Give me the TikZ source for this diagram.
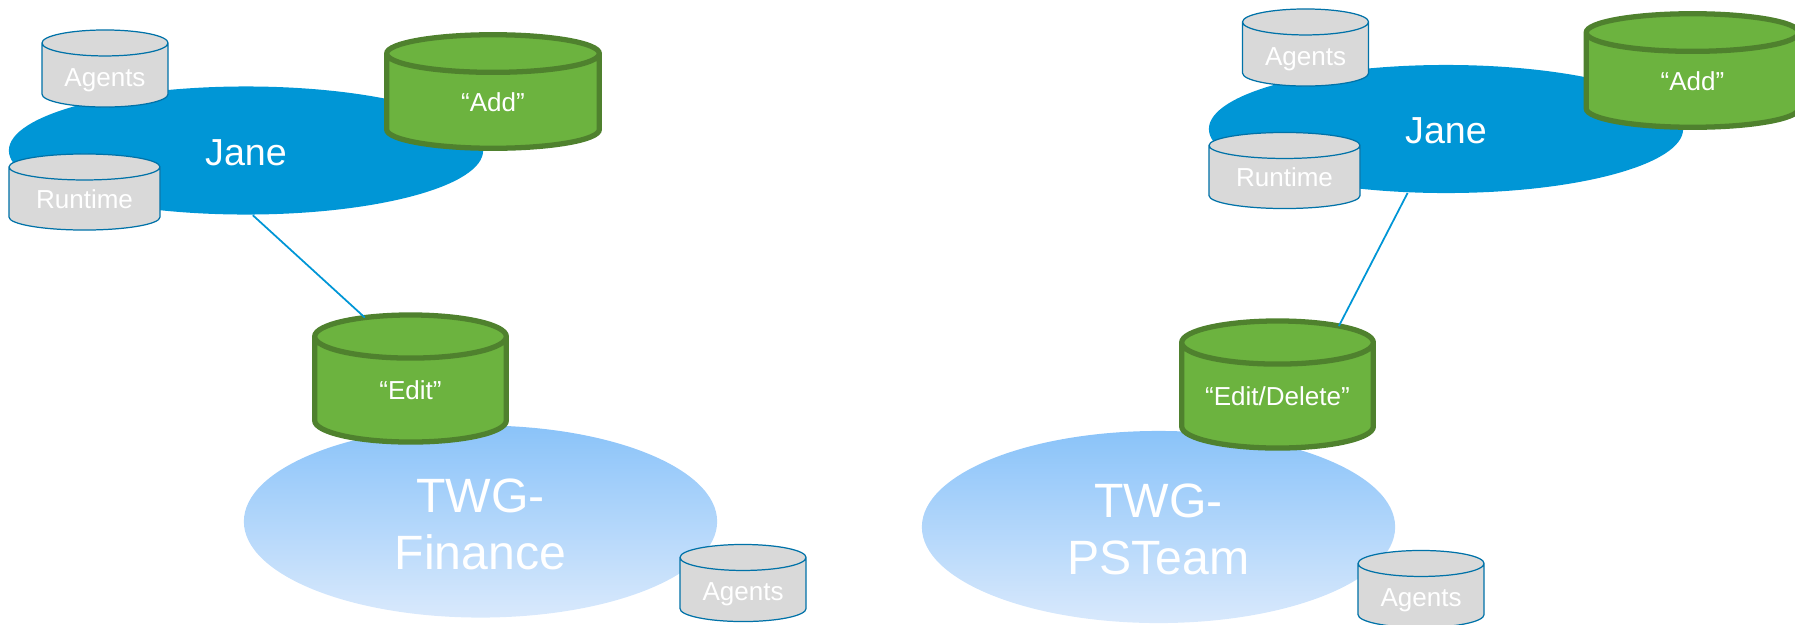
\documentclass[tikz,border=0pt]{standalone}
\usepackage{fontspec}
\setmainfont{Liberation Sans}
\usetikzlibrary{shapes.geometric}
\definecolor{janeblue}{HTML}{0096D6}
\definecolor{twgtop}{HTML}{8AC3F9}
\definecolor{twgbottom}{HTML}{D9E9FC}
\definecolor{storegreen}{HTML}{6CB33F}
\definecolor{storedark}{HTML}{4F812E}
\definecolor{storegrey}{HTML}{D9D9D9}
\definecolor{storeline}{HTML}{0072A8}
\tikzset{
  janeoval/.style={ellipse, fill=janeblue, inner sep=0pt, minimum width=4.74cm, minimum height=1.28cm, text=white, text height=8.4pt, text depth=0pt, font=\fontsize{10.7}{12}\selectfont},
  twgoval/.style={ellipse, top color=twgtop, bottom color=twgbottom, inner sep=0pt, minimum width=4.73cm, minimum height=1.92cm, text=white, align=center, text height=27.3pt, font=\fontsize{13.7}{16.2}\selectfont},
  store/.style={cylinder, shape border rotate=90, anchor=shape center, inner sep=0pt, outer sep=0pt, align=center, text=white, font=\fontsize{7.4}{9}\selectfont},
  agentstore/.style={store, aspect=0.206, draw=storeline, line width=0.35pt, fill=storegrey, text width=1.26cm, minimum height=0.77cm, text height=6.3pt, text depth=0pt},
  runtimestore/.style={store, aspect=0.172, draw=storeline, line width=0.35pt, fill=storegrey, text width=1.51cm, minimum height=0.76cm},
  addstore/.style={store, aspect=0.177, draw=storedark, line width=1.5pt, fill=storegreen, text width=2.125cm, minimum height=1.135cm},
  greenstore/.style={store, aspect=0.225, draw=storedark, line width=1.5pt, fill=storegreen, text width=1.915cm, minimum height=1.27cm},
  link/.style={draw=janeblue, line width=0.5pt}
}
\begin{document}
\begin{tikzpicture}[x=0.01cm, y=-0.01cm]
    \useasboundingbox (0, 0) rectangle (1795, 624);

    % Left side
    \node[janeoval] (janeLeft) at (246, 150.5) {Jane};
    \node[twgoval] (twgFinance) at (480.5, 521.5) {TWG-\\Finance};
    \node[agentstore] (agentsLeft) at (105, 68.5) {Agents};
    \node[runtimestore] (runtimeLeft) at (84.5, 192) {Runtime};
    \node[addstore] (addLeft) at (493, 91.5) {“Add”};
    \node[greenstore] (edit) at (410.5, 378.5) {“Edit”};
    \node[agentstore] (agentsFinance) at (743, 583) {Agents};
    \draw[link] (janeLeft.276) -- (edit.122);

    % Right side
    \node[janeoval] (janeRight) at (1446, 129) {Jane};
    \node[twgoval] (twgTeam) at (1158.5, 527) {TWG-\\PSTeam};
    \node[agentstore] (agentsRight) at (1305.5, 47.5) {Agents};
    \node[runtimestore] (runtimeRight) at (1284.5, 170.5) {Runtime};
    \node[addstore] (addRight) at (1692.5, 70.5) {“Add”};
    \node[greenstore] (editDelete) at (1277.5, 384.5) {“Edit/Delete”};
    \node[agentstore] (agentsTeam) at (1421, 589) {Agents};
    \draw[link] (janeRight.239) -- (editDelete.49);
\end{tikzpicture}
\end{document}
